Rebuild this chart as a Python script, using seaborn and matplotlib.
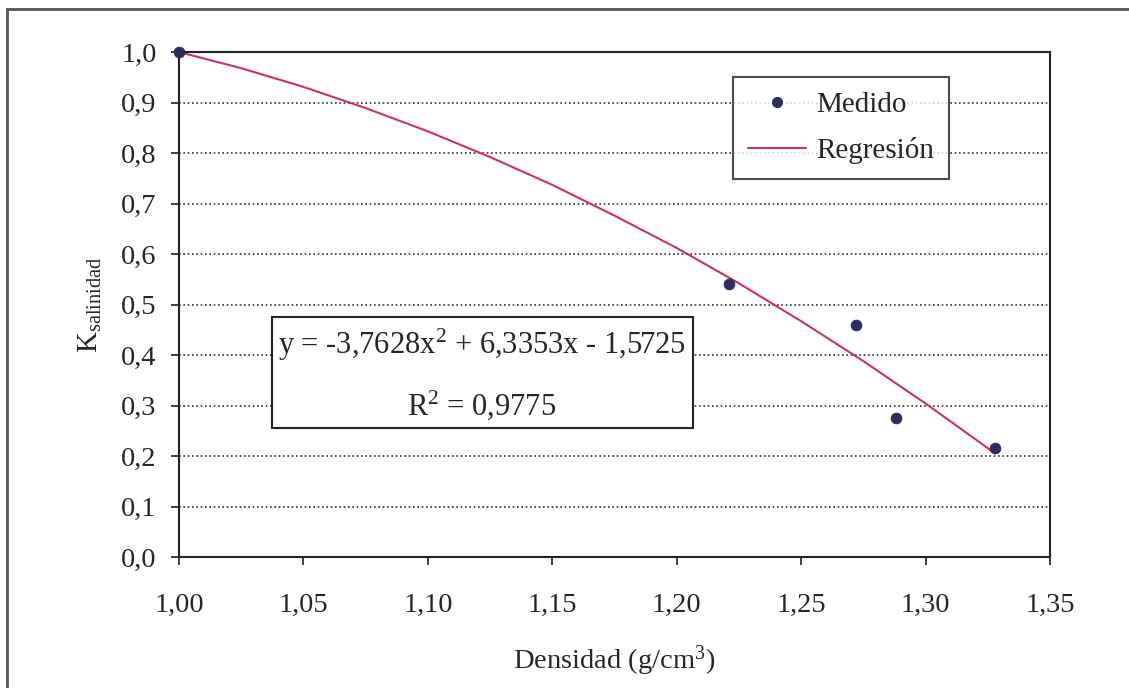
import numpy as np
import pandas as pd
import matplotlib
matplotlib.use("Agg")
import matplotlib.pyplot as plt
import seaborn as sns
from matplotlib.patches import Rectangle
from matplotlib.lines import Line2D

# measured points
densidad = [1.000, 1.221, 1.272, 1.288, 1.328]
k_medido = [1.000, 0.540, 0.460, 0.275, 0.215]

# regression curve
dens_reg = [1.000, 1.025, 1.050, 1.075, 1.100, 1.125, 1.150, 1.175,
            1.200, 1.225, 1.250, 1.275, 1.300, 1.328]
k_reg = [1.000, 0.968, 0.931, 0.889, 0.843, 0.792, 0.737, 0.676,
         0.612, 0.542, 0.467, 0.388, 0.304, 0.205]

x_ticks = [1.00, 1.05, 1.10, 1.15, 1.20, 1.25, 1.30, 1.35]
y_ticks = [0.0, 0.1, 0.2, 0.3, 0.4, 0.5, 0.6, 0.7, 0.8, 0.9, 1.0]

sns.set_style("white")
plt.rcParams["font.family"] = ["Liberation Serif", "DejaVu Serif"]
plt.rcParams["mathtext.fontset"] = "custom"
plt.rcParams["mathtext.rm"] = "Liberation Serif"
plt.rcParams["mathtext.it"] = "Liberation Serif:italic"

fig = plt.figure(figsize=(11.29, 6.88), dpi=100)
ax = fig.add_axes([0.1585, 0.1904, 0.7715, 0.734])

# outer frame (cut at right and bottom in the reference)
fig.add_artist(Rectangle((7 / 1129, -0.01), 1.2, 1 - 9 / 688 + 0.01,
                         transform=fig.transFigure, fill=False,
                         edgecolor="#555555", linewidth=2))

line_col = "#d0305a"
dot_col = "#2b2d5e"

df_reg = pd.DataFrame({"x": dens_reg, "y": k_reg})
df_med = pd.DataFrame({"x": densidad, "y": k_medido})
sns.lineplot(data=df_reg, x="x", y="y", ax=ax, color=line_col, linewidth=1.5)
sns.scatterplot(data=df_med, x="x", y="y", ax=ax, color=dot_col, s=60,
                edgecolor=dot_col, zorder=5, clip_on=False)

ax.set_xlim(1.00, 1.35)
ax.set_ylim(0.0, 1.0)
ax.set_xticks(x_ticks)
ax.set_yticks(y_ticks)
ax.set_xticklabels([f"{v:.2f}".replace(".", ",") for v in x_ticks], fontsize=20.5)
ax.set_yticklabels([f"{v:.1f}".replace(".", ",") for v in y_ticks], fontsize=20.5)
ax.tick_params(axis="both", direction="out", length=6, width=1.2, color="#222222",
               left=True, bottom=True)
ax.tick_params(axis="y", pad=10)
ax.tick_params(axis="x", pad=20)

for y in y_ticks[1:-1]:
    ax.axhline(y, color="#333333", linestyle=(0, (1, 1.6)), linewidth=1.2, zorder=0)

for s in ax.spines.values():
    s.set_color("#222222")
    s.set_linewidth(1.5)

ax.set_xlabel("Densidad (g/cm$^{3}$)", fontsize=20.5, labelpad=18)
ax.set_ylabel("K$_{\\mathrm{salinidad}}$", fontsize=21, labelpad=12)

# legend
handles = [Line2D([], [], marker="o", linestyle="none", color=dot_col, markersize=7),
           Line2D([], [], color=line_col, linewidth=1.5)]
leg = ax.legend(handles, ["Medido", "Regresión"], loc="upper left",
                bbox_to_anchor=(0.636, 0.950), borderaxespad=0, fontsize=21,
                frameon=True, fancybox=False, handlelength=2.0, handletextpad=0.35,
                borderpad=0.5, labelspacing=0.65)
leg.get_frame().set_edgecolor("#222222")
leg.get_frame().set_linewidth(1.5)

# equation box
ax.add_patch(Rectangle((0.107, 0.255), 0.483, 0.220, transform=ax.transAxes,
                       facecolor="white", edgecolor="#222222", linewidth=1.5, zorder=6))
ax.text(0.348, 0.42, "y = -3,7628x$^{2}$ + 6,3353x - 1,5725", transform=ax.transAxes,
        ha="center", va="center", fontsize=22, zorder=7)
ax.text(0.348, 0.30, "R$^{2}$ = 0,9775", transform=ax.transAxes,
        ha="center", va="center", fontsize=22, zorder=7)

fig.savefig("out.png", dpi=100)
